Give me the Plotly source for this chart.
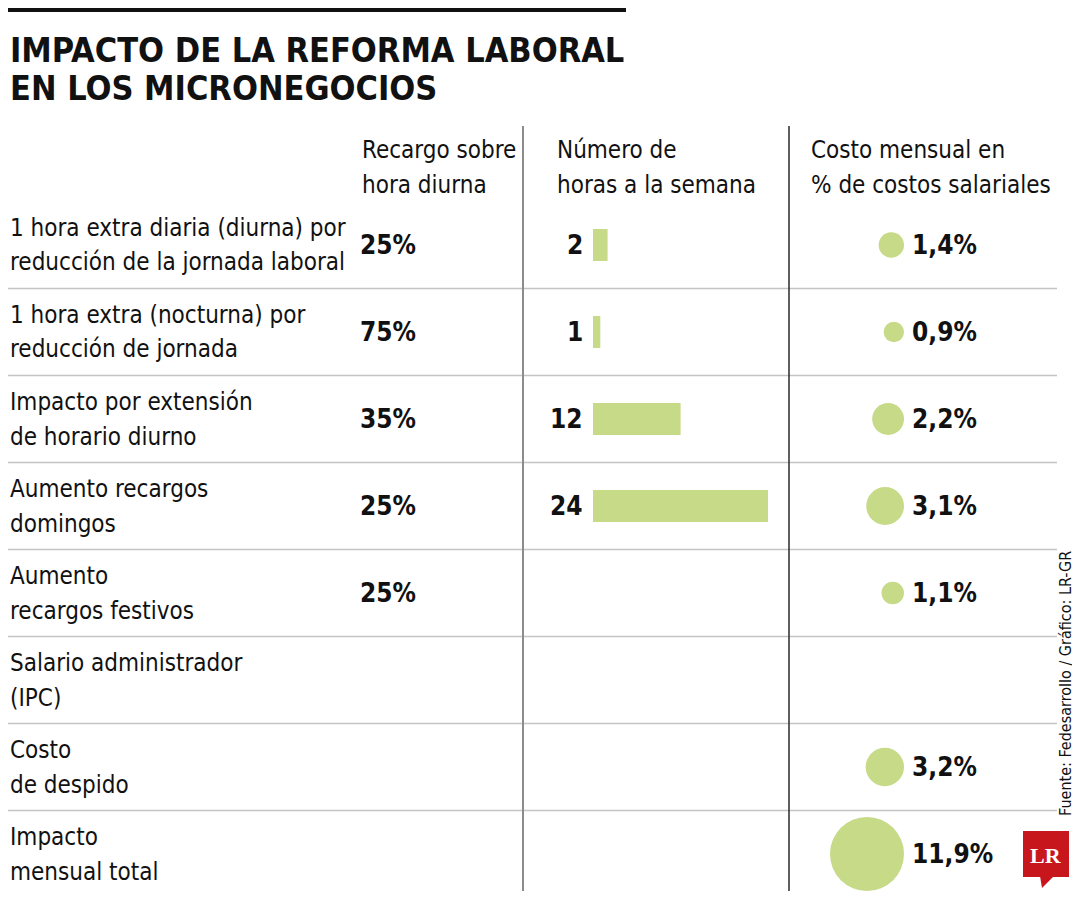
import math
import plotly.graph_objects as go

# ---------------- data ----------------
title_lines = ["IMPACTO DE LA REFORMA LABORAL", "EN LOS MICRONEGOCIOS"]
headers = [
    ["Recargo sobre", "hora diurna"],
    ["Número de", "horas a la semana"],
    ["Costo mensual en", "% de costos salariales"],
]
row_labels = [
    ["1 hora extra diaria (diurna) por", "reducción de la jornada laboral"],
    ["1 hora extra (nocturna) por", "reducción de jornada"],
    ["Impacto por extensión", "de horario diurno"],
    ["Aumento recargos", "domingos"],
    ["Aumento", "recargos festivos"],
    ["Salario administrador", "(IPC)"],
    ["Costo", "de despido"],
    ["Impacto", "mensual total"],
]
recargo = ["25%", "75%", "35%", "25%", "25%", None, None, None]
horas = [2, 1, 12, 24, None, None, None, None]
costo = [1.4, 0.9, 2.2, 3.1, 1.1, None, 3.2, 11.9]
source = "Fuente: Fedesarrollo / Gráfico: LR-GR"

# ---------------- style / layout ----------------
W, H = 1080, 900
OFF = 8  # page body margin: the figure is drawn at (8, 8) in the window
FW, FH = W - OFF, H - OFF
FONT = "DejaVu Sans Condensed, Liberation Sans Narrow, Roboto, sans-serif"
GREEN = "#c6da88"
ROW0, ROW_H = 245, 87
LINE_OFF = 17.5
BAR_X0, PX_PER_H = 593, 7.3
CIRC_RIGHT, CIRC_K = 904, 21.45

centers = [ROW0 + ROW_H * i for i in range(len(row_labels))]

fig = go.Figure()

# bars (hours per week) on their own x scale
bar_y = [c for c, h in zip(centers, horas) if h is not None]
bar_x = [h for h in horas if h is not None]
fig.add_trace(go.Bar(
    x=bar_x, y=bar_y, orientation="h", width=32,
    marker=dict(color=GREEN, line=dict(width=0)),
    xaxis="x2", yaxis="y", hoverinfo="skip", showlegend=False,
))

# circles (area proportional to cost)
cy, cx, cd = [], [], []
for c, v in zip(centers, costo):
    if v is None:
        continue
    d = CIRC_K * math.sqrt(v)
    cy.append(c)
    cd.append(d)
    cx.append(CIRC_RIGHT - d / 2)
fig.add_trace(go.Scatter(
    x=cx, y=cy, mode="markers",
    marker=dict(size=cd, sizemode="diameter", color=GREEN, line=dict(width=0), opacity=1),
    xaxis="x", yaxis="y", hoverinfo="skip", showlegend=False,
))

ann = []


def txt(x, y, s, size, bold=False, anchor="left", color="#111111", family=FONT, angle=0):
    ann.append(dict(
        x=(x - OFF) / FW, y=1 - (y - OFF) / FH, xref="paper", yref="paper",
        text=s, showarrow=False,
        xanchor=anchor, yanchor="middle", textangle=angle,
        font=dict(family=family, size=size, color=color, weight=700 if bold else 400),
    ))


# title
txt(8, 50, title_lines[0], 34, bold=True)
txt(8, 88, title_lines[1], 34, bold=True)

# headers
for hx, lines in zip([360, 555, 809], headers):
    txt(hx, 150, lines[0], 24)
    txt(hx, 185, lines[1], 24)

# rows
for i, c in enumerate(centers):
    txt(8, c - LINE_OFF, row_labels[i][0], 24)
    txt(8, c + LINE_OFF, row_labels[i][1], 24)
    if recargo[i] is not None:
        txt(358, c, recargo[i], 26, bold=True)
    if horas[i] is not None:
        txt(585, c, str(horas[i]), 26, bold=True, anchor="right")
    if costo[i] is not None:
        txt(910, c, f"{costo[i]:.1f}".replace(".", ",") + "%", 26, bold=True)

# source (rotated)
txt(1065, 684, source, 16, angle=-90, anchor="center")

# LR logo text
txt(1046, 855, "LR", 22, bold=True, anchor="center", color="white",
    family="Liberation Serif, DejaVu Serif, serif")

shapes = []
# top black bar
shapes.append(dict(type="rect", xref="x", yref="y", x0=0, x1=626, y0=4, y1=12,
                   fillcolor="#111111", line=dict(width=0), layer="below"))
# horizontal separators
for i in range(len(centers) - 1):
    y = ROW0 + ROW_H * (i + 0.5)
    shapes.append(dict(type="line", xref="x", yref="y", x0=4, x1=1057, y0=y, y1=y,
                       line=dict(color="#c4c4c4", width=1.5), layer="below"))
# vertical separators
shapes.append(dict(type="line", xref="x", yref="y", x0=523, x1=523, y0=126, y1=891,
                   line=dict(color="#8c8c8c", width=2)))
shapes.append(dict(type="line", xref="x", yref="y", x0=789, x1=789, y0=126, y1=891,
                   line=dict(color="#2a2a2a", width=1.5)))
# LR logo box + tail
shapes.append(dict(type="rect", xref="x", yref="y", x0=1023, x1=1069, y0=831, y1=877,
                   fillcolor="#c8161d", line=dict(width=0)))
shapes.append(dict(type="path", xref="x", yref="y",
                   path="M 1040 876 L 1054 876 L 1042 888 Z",
                   fillcolor="#c8161d", line=dict(width=0)))

fig.update_layout(
    width=FW, height=FH,
    margin=dict(l=0, r=0, t=0, b=0),
    paper_bgcolor="white", plot_bgcolor="rgba(0,0,0,0)",
    xaxis=dict(range=[OFF, OFF + FW], domain=[0, 1], visible=False, fixedrange=True),
    xaxis2=dict(range=[0, 24],
                domain=[(BAR_X0 - OFF) / FW, (BAR_X0 + PX_PER_H * 24 - OFF) / FW],
                anchor="y", visible=False, fixedrange=True),
    yaxis=dict(range=[OFF + FH, OFF], domain=[0, 1], visible=False, fixedrange=True),
    annotations=ann, shapes=shapes,
    barmode="overlay", showlegend=False,
)

fig.write_html("out.html")
